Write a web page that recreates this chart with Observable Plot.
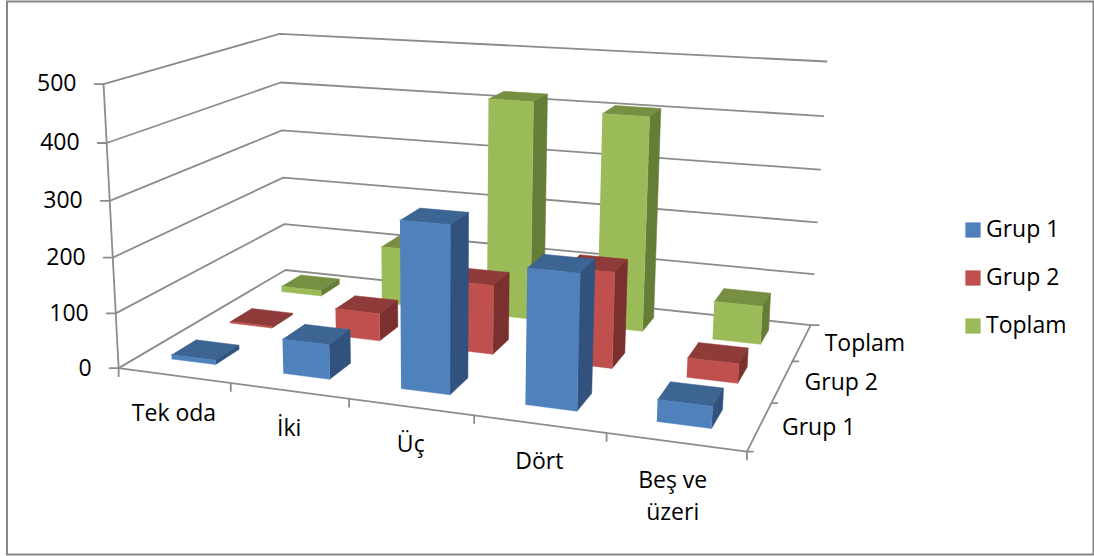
<!DOCTYPE html>
<html><head><meta charset="utf-8">
<style>html,body{margin:0;padding:0;background:#fff}svg{display:block}</style>
<script src="https://cdn.jsdelivr.net/npm/d3@7"></script>
<script src="https://cdn.jsdelivr.net/npm/@observablehq/plot@0.6"></script>
</head><body><script>
const categories = ["Tek oda","İki","Üç","Dört","Beş ve üzeri"];
const seriesNames = ["Grup 1","Grup 2","Toplam"];
const grup1  = [8, 62, 292, 232, 37];
const grup2  = [3, 52, 128, 174, 35];
const toplam = [11, 114, 420, 406, 72];
const yTicks = [0,100,200,300,400,500];
const seriesValues = [grup1, grup2, toplam];
const front = ["#4F81BD","#C0504D","#9BBB59"];
const topC  = ["#3D6593","#8F3B39","#768F43"];
const side  = ["#30527C","#7A302E","#667D38"];
const barSize = 0.4;

// camera calibration: model point [u,v,w] -> picture point
const camera = [
 [[0,0,0],[118.5,367]],[[0,0,500],[103,84]],[[0,3,0],[285,269.5]],[[0,3,500],[279,33]],
 [[5,3,0],[810,325]],[[5,3,500],[826,61]],[[5,0,0],[747,450]],
 [[1,0,0],[230,383]],[[2,0,0],[348,399]],[[0,3,200],[283,177]],[[5,3,200],[816.5,222]]
];
function solve(A,b){const n=b.length;const M=A.map((r,i)=>[...r,b[i]]);
 for(let i=0;i<n;i++){let p=i;for(let k=i+1;k<n;k++)if(Math.abs(M[k][i])>Math.abs(M[p][i]))p=k;[M[i],M[p]]=[M[p],M[i]];
  for(let k=0;k<n;k++){if(k===i)continue;const f=M[k][i]/M[i][i];for(let j=i;j<=n;j++)M[k][j]-=f*M[i][j];}}
 return M.map((r,i)=>r[n]/r[i]);}
const H=(()=>{const rows=[],rhs=[];
 for(const [[u,v,w],[x,y]] of camera){const a=u/5,b=v/3,c=w/500;
  rows.push([a,b,c,1,0,0,0,0,-x*a,-x*b,-x*c]);rhs.push(x);
  rows.push([0,0,0,0,a,b,c,1,-y*a,-y*b,-y*c]);rhs.push(y);}
 const n=11,AtA=Array.from({length:n},()=>Array(n).fill(0)),Atb=Array(n).fill(0);
 rows.forEach((r,k)=>{for(let i=0;i<n;i++){Atb[i]+=r[i]*rhs[k];for(let j=0;j<n;j++)AtA[i][j]+=r[i]*r[j];}});
 return solve(AtA,Atb);})();
function P(u,v,w){const a=u/5,b=v/3,c=w/500,d=H[8]*a+H[9]*b+H[10]*c+1;
 return [(H[0]*a+H[1]*b+H[2]*c+H[3])/d,(H[4]*a+H[5]*b+H[6]*c+H[7])/d];}

// grid, axes
const lines=[];let id=0;
function addLine(pts){id++;pts.forEach(p=>lines.push({id,x:p[0],y:p[1]}));}
for(const w of yTicks){
 addLine([P(0,0,w),P(0,3,w),P(5,3,w)]);
 const p=P(0,0,w);addLine([[p[0]-9,p[1]],p]);
 if(w===0){const q=P(5,3,0);addLine([q,[q[0]+8,q[1]]]);}
}
addLine([P(0,0,0),P(0,0,500)]);
addLine([P(0,0,0),P(5,0,0),P(5,3,0)]);
for(let u=0;u<=5;u++){const p=P(u,0,0);addLine([p,[p[0],p[1]+8]]);}
for(let v=0;v<=2;v++){const p=P(5,v,0);addLine([p,[p[0]+6,p[1]]]);}

// bar faces, far series first
const faces=[];let fid=0;
function face(corners,color){fid++;corners.forEach(c=>{const p=P(...c);faces.push({fid,x:p[0],y:p[1],color});});}
for(let s=2;s>=0;s--){categories.forEach((_,i)=>{
 const w=seriesValues[s][i],u0=i+.484-barSize/2,u1=i+.484+barSize/2,v0=s+.54-barSize/2,v1=s+.54+barSize/2;
 face([[u0,v0,w],[u1,v0,w],[u1,v1,w],[u0,v1,w]],topC[s]);
 face([[u1,v0,0],[u1,v1,0],[u1,v1,w],[u1,v0,w]],side[s]);
 face([[u0,v0,0],[u1,v0,0],[u1,v0,w],[u0,v0,w]],front[s]);
});}

const font="'Open Sans', sans-serif", fs=23;
const yLabels=yTicks.map(w=>{const p=P(0,0,w);return{x:p[0]-27,y:p[1],t:String(w)};});
const catLabels=[];
categories.forEach((c,i)=>{const p=P(i+.5,0,0);
 if(c==="Beş ve üzeri"){catLabels.push({x:p[0]-3,y:p[1]+39,t:"Beş ve"},{x:p[0]-3,y:p[1]+71,t:"üzeri"});}
 else catLabels.push({x:p[0],y:p[1]+38,t:c});});
const depthLabels=seriesNames.map((s,i)=>{const p=P(5,i+.5,0);return{x:p[0]+(i===2?63:59),y:p[1]+1,t:s};});
const legend=seriesNames.map((s,i)=>({x:972.5,y:229.5+48*i,t:s,color:front[i]}));

const plot=Plot.plot({
 width:1094,height:556,margin:0,
 x:{type:"identity",axis:null},y:{type:"identity",axis:null},
 style:{background:"#fff",fontFamily:font},
 marks:[
  Plot.frame({stroke:"#868686",strokeWidth:2,insetLeft:6.5,insetTop:1,insetRight:1,insetBottom:2}),
  Plot.line(lines,{x:"x",y:"y",z:"id",stroke:"#8C8C8C",strokeWidth:1.8,curve:"linear"}),
  Plot.line(faces,{x:"x",y:"y",z:"fid",fill:{value:"color",scale:null},stroke:{value:"color",scale:null},strokeWidth:0.5,curve:"linear"}),
  Plot.text(yLabels,{x:"x",y:"y",text:"t",textAnchor:"end",fontSize:fs,fill:"#000"}),
  Plot.text(catLabels,{x:"x",y:"y",text:"t",fontSize:fs,fill:"#000"}),
  Plot.text(depthLabels,{x:"x",y:"y",text:"t",fontSize:fs,fill:"#000"}),
  Plot.dot(legend,{x:"x",y:"y",symbol:"square",r:8.6,fill:{value:"color",scale:null},stroke:null}),
  Plot.text(legend,{x:d=>d.x+13,y:"y",text:"t",textAnchor:"start",fontSize:fs,fill:"#000"})
 ]
});
document.body.append(plot);
</script></body></html>
